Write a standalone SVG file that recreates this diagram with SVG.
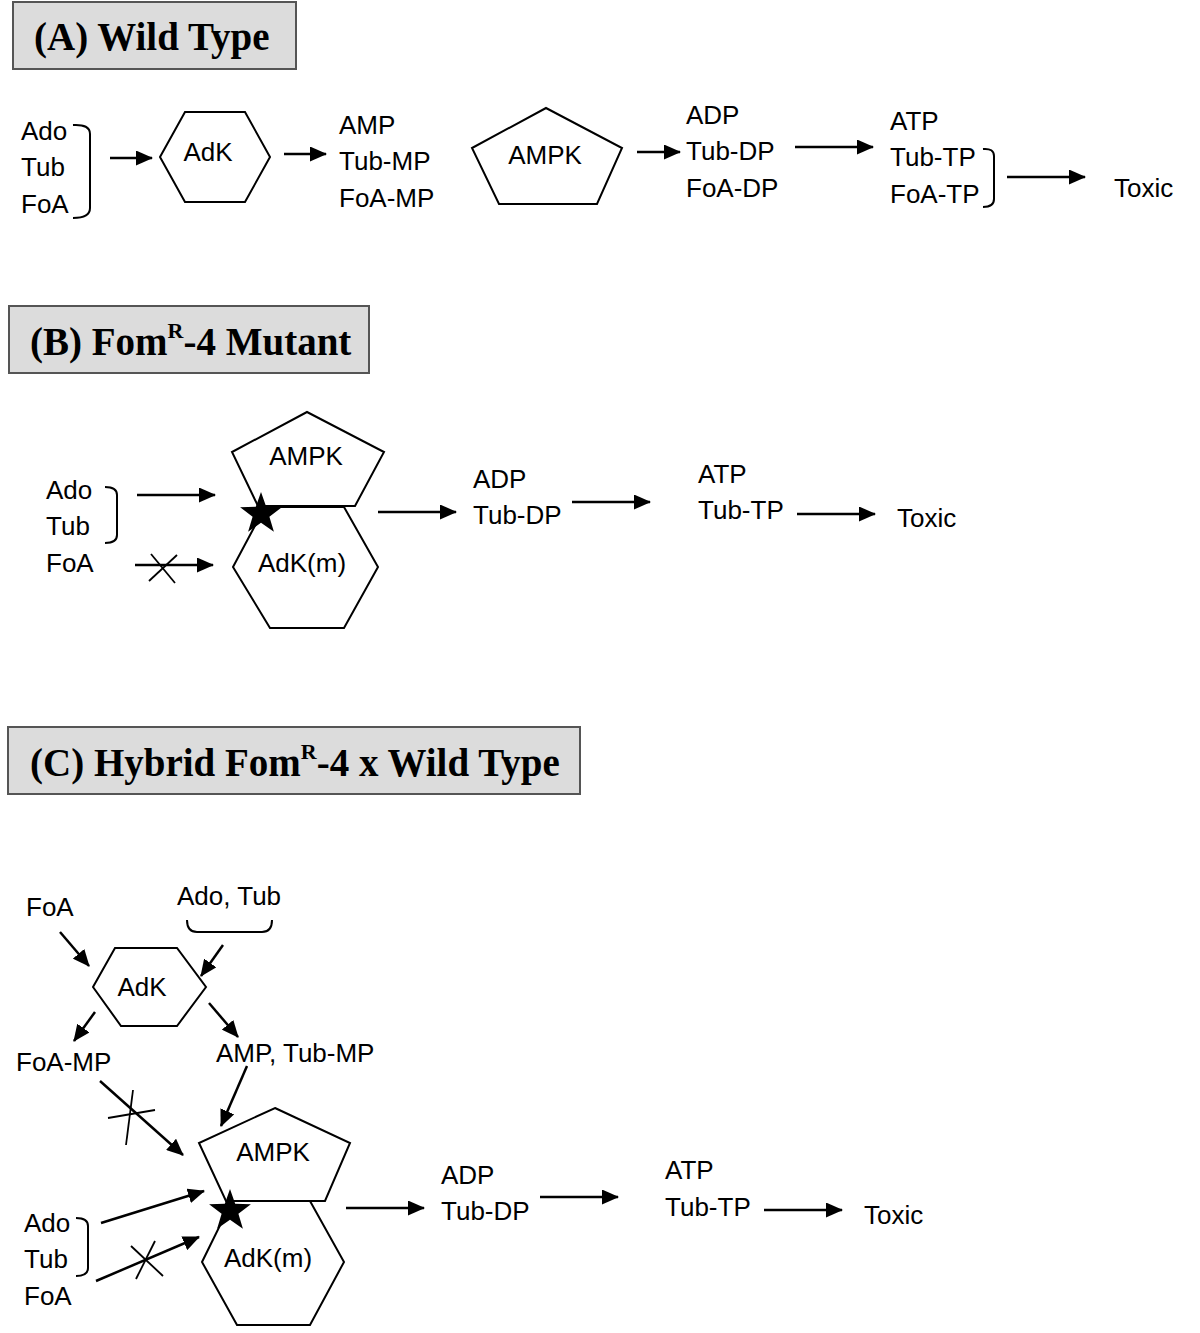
<svg xmlns="http://www.w3.org/2000/svg" width="1200" height="1333" viewBox="0 0 1200 1333">
<style>
.t{font-family:"Liberation Sans",Arial,sans-serif;font-size:26px;fill:#000}
.h{font-family:"Liberation Serif","Times New Roman",serif;font-size:39px;font-weight:bold;fill:#000}
.sup{font-size:22px}
.box{fill:#dcdcdc;stroke:#555;stroke-width:2}
.sh{fill:#fff;stroke:#000;stroke-width:2}
.c{fill:none;stroke:#000;stroke-width:2.5}
.x{fill:none;stroke:#000;stroke-width:1.8}
.br{fill:none;stroke:#000;stroke-width:2}
</style>
<defs>
<marker id="ah" markerUnits="userSpaceOnUse" markerWidth="17" markerHeight="15" refX="16" refY="7.5" orient="auto">
<path d="M0,0 L17,7.5 L0,15 Z" fill="#000"/>
</marker>
</defs>
<rect width="1200" height="1333" fill="#fff"/>

<!-- Titles -->
<g id="titleA"><rect class="box" x="13" y="2" width="283" height="67"/><text class="h" x="34" y="50">(A) Wild Type</text></g>
<g id="titleB"><rect class="box" x="9" y="306" width="360" height="67"/><text class="h" x="30" y="355">(B) Fom<tspan class="sup" dy="-17">R</tspan><tspan dy="17">-4 Mutant</tspan></text></g>
<g id="titleC"><rect class="box" x="8" y="727" width="572" height="67"/><text class="h" x="30" y="776">(C) Hybrid Fom<tspan class="sup" dy="-17">R</tspan><tspan dy="17">-4 x Wild Type</tspan></text></g>

<!-- Section A -->
<g id="A-substrates"><text class="t" x="21" y="140">Ado</text><text class="t" x="21" y="176">Tub</text><text class="t" x="21" y="213">FoA</text>
<path class="br" d="M73,125 Q90,124 90,134 L90,208 Q90,218 73,218"/></g>
<g id="A-AdK"><polygon class="sh" points="160,157 185,112 245,112 270,157 245,202 185,202"/><text class="t" x="208" y="161" text-anchor="middle">AdK</text></g>
<g id="A-MP"><text class="t" x="339" y="134">AMP</text><text class="t" x="339" y="170">Tub-MP</text><text class="t" x="339" y="207">FoA-MP</text></g>
<g id="A-AMPK"><polygon class="sh" points="546,108 622,148 597,204 499,204 472,148"/><text class="t" x="545" y="164" text-anchor="middle">AMPK</text></g>
<g id="A-DP"><text class="t" x="686" y="124">ADP</text><text class="t" x="686" y="160">Tub-DP</text><text class="t" x="686" y="197">FoA-DP</text></g>
<g id="A-TP"><text class="t" x="890" y="130">ATP</text><text class="t" x="890" y="166">Tub-TP</text><text class="t" x="890" y="203">FoA-TP</text>
<path class="br" d="M983,149 Q994,148 994,156 L994,199 Q994,207 983,207"/></g>
<g id="A-Toxic"><text class="t" x="1114" y="197">Toxic</text></g>

<!-- Section B -->
<g id="B-substrates"><text class="t" x="46" y="499">Ado</text><text class="t" x="46" y="535">Tub</text><text class="t" x="46" y="572">FoA</text>
<path class="br" d="M105,487 Q117,487 117,495 L117,535 Q117,543 105,543"/></g>
<g id="B-AMPK"><polygon class="sh" points="307,412 384,452 355,506 258,506 232,452"/><text class="t" x="306" y="465" text-anchor="middle">AMPK</text></g>
<g id="B-AdKm"><polygon class="sh" points="233,567 265,507 344,507 378,567 344,628 270,628"/><text class="t" x="302" y="572" text-anchor="middle">AdK(m)</text></g>
<g id="B-star"><polygon fill="#000" points="261,492 266.2,506.8 281.9,507.2 269.4,516.7 273.9,531.8 261,522.8 248.1,531.8 252.6,516.7 240.1,507.2 255.8,506.8"/></g>
<g id="B-DP"><text class="t" x="473" y="488">ADP</text><text class="t" x="473" y="524">Tub-DP</text></g>
<g id="B-TP"><text class="t" x="698" y="483">ATP</text><text class="t" x="698" y="519">Tub-TP</text></g>
<g id="B-Toxic"><text class="t" x="897" y="527">Toxic</text></g>

<!-- Section C -->
<g id="C-FoA"><text class="t" x="26" y="916">FoA</text></g>
<g id="C-AdoTub"><text class="t" x="177" y="905">Ado, Tub</text><path class="br" d="M187,920 Q187,932 197,932 L262,932 Q272,932 272,920"/></g>
<g id="C-AdK"><polygon class="sh" points="93,987 115,948 177,948 206,987 177,1026 121,1026"/><text class="t" x="142" y="996" text-anchor="middle">AdK</text></g>
<g id="C-FoAMP"><text class="t" x="16" y="1071">FoA-MP</text></g>
<g id="C-AMPTubMP"><text class="t" x="216" y="1062">AMP, Tub-MP</text></g>
<g id="C-AMPK"><polygon class="sh" points="275,1108 350,1143 325,1201 226,1201 199,1143"/><text class="t" x="273" y="1161" text-anchor="middle">AMPK</text></g>
<g id="C-AdKm"><polygon class="sh" points="202,1262 232,1201 310,1201 344,1262 310,1325 237,1325"/><text class="t" x="268" y="1267" text-anchor="middle">AdK(m)</text></g>
<g id="C-star"><polygon fill="#000" points="230,1189 235.2,1203.8 250.9,1204.2 238.4,1213.7 242.9,1228.8 230,1219.8 217.1,1228.8 221.6,1213.7 209.1,1204.2 224.8,1203.8"/></g>
<g id="C-substrates"><text class="t" x="24" y="1232">Ado</text><text class="t" x="24" y="1268">Tub</text><text class="t" x="24" y="1305">FoA</text>
<path class="br" d="M76,1218 Q88,1218 88,1226 L88,1268 Q88,1276 76,1276"/></g>
<g id="C-DP"><text class="t" x="441" y="1184">ADP</text><text class="t" x="441" y="1220">Tub-DP</text></g>
<g id="C-TP"><text class="t" x="665" y="1179">ATP</text><text class="t" x="665" y="1216">Tub-TP</text></g>
<g id="C-Toxic"><text class="t" x="864" y="1224">Toxic</text></g>

<!-- Connectors -->
<g id="connectors">
<line class="c" x1="110" y1="158" x2="152" y2="158" marker-end="url(#ah)"/>
<line class="c" x1="284" y1="154" x2="326" y2="154" marker-end="url(#ah)"/>
<line class="c" x1="637" y1="152" x2="680" y2="152" marker-end="url(#ah)"/>
<line class="c" x1="795" y1="147" x2="873" y2="147" marker-end="url(#ah)"/>
<line class="c" x1="1007" y1="177" x2="1085" y2="177" marker-end="url(#ah)"/>

<line class="c" x1="137" y1="495" x2="215" y2="495" marker-end="url(#ah)"/>
<line class="c" x1="135" y1="565" x2="213" y2="565" marker-end="url(#ah)"/>
<line class="x" x1="151" y1="554" x2="175" y2="583"/>
<line class="x" x1="149" y1="581" x2="177" y2="555"/>
<line class="c" x1="378" y1="512" x2="456" y2="512" marker-end="url(#ah)"/>
<line class="c" x1="572" y1="502" x2="650" y2="502" marker-end="url(#ah)"/>
<line class="c" x1="797" y1="514" x2="875" y2="514" marker-end="url(#ah)"/>

<line class="c" x1="60" y1="932" x2="89" y2="966" marker-end="url(#ah)"/>
<line class="c" x1="223" y1="945" x2="201" y2="976" marker-end="url(#ah)"/>
<line class="c" x1="95" y1="1012" x2="74" y2="1041" marker-end="url(#ah)"/>
<line class="c" x1="209" y1="1003" x2="238" y2="1037" marker-end="url(#ah)"/>
<line class="c" x1="247" y1="1066" x2="221" y2="1126" marker-end="url(#ah)"/>
<line class="c" x1="100" y1="1081" x2="183" y2="1155" marker-end="url(#ah)"/>
<line class="x" x1="108" y1="1118" x2="155" y2="1110"/>
<line class="x" x1="133" y1="1090" x2="126" y2="1145"/>
<line class="c" x1="101" y1="1223" x2="204" y2="1191" marker-end="url(#ah)"/>
<line class="c" x1="96" y1="1281" x2="199" y2="1237" marker-end="url(#ah)"/>
<line class="x" x1="131" y1="1246" x2="163" y2="1276"/>
<line class="x" x1="136" y1="1279" x2="155" y2="1241"/>
<line class="c" x1="346" y1="1208" x2="424" y2="1208" marker-end="url(#ah)"/>
<line class="c" x1="540" y1="1197" x2="618" y2="1197" marker-end="url(#ah)"/>
<line class="c" x1="764" y1="1210" x2="842" y2="1210" marker-end="url(#ah)"/>
</g>
</svg>
